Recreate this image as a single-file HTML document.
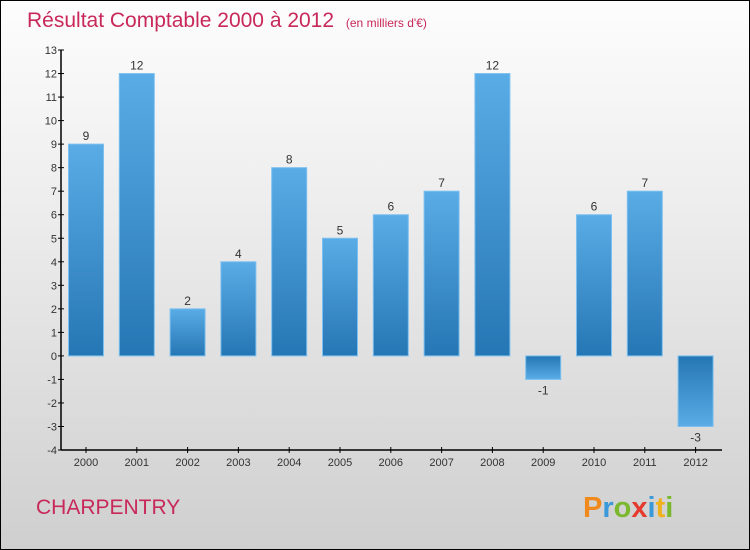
<!DOCTYPE html>
<html><head><meta charset="utf-8"><style>
body{margin:0}
#wrap{position:relative;width:748px;height:548px;border:1px solid #000;background:linear-gradient(#fdfdfd,#ececec 40%,#cfcfcf);font-family:"Liberation Sans",sans-serif;overflow:hidden}
</style></head><body>
<div id="wrap">
<svg width="748" height="548" viewBox="1 1 748 548" id="svg">
<defs><linearGradient id="g" x1="0" y1="0" x2="0" y2="1"><stop offset="0" stop-color="#5aace6"/><stop offset="1" stop-color="#2576b4"/></linearGradient>
<linearGradient id="gn" x1="0" y1="0" x2="0" y2="1"><stop offset="0" stop-color="#2576b4"/><stop offset="1" stop-color="#5aace6"/></linearGradient></defs>
<text x="27" y="27" font-size="21" fill="#c8285a">Résultat Comptable 2000 à 2012 <tspan font-size="12" dx="6">(en milliers d'€)</tspan></text>
<text x="36" y="514" font-size="21" fill="#c8285a">CHARPENTRY</text>
<text x="583" y="517" font-size="29" font-weight="bold"><tspan fill="#f08a1c">P</tspan><tspan fill="#3a9ad9">r</tspan><tspan fill="#7ab82e">o</tspan><tspan fill="#e53a2f">x</tspan><tspan fill="#3a9ad9">i</tspan><tspan fill="#f0b21c">t</tspan><tspan fill="#7ab82e">i</tspan></text>
<g id="plot"></g>
</svg></div>
<script>
const years=["2000","2001","2002","2003","2004","2005","2006","2007","2008","2009","2010","2011","2012"];
const values=[9,12,2,4,8,5,6,7,12,-1,6,7,-3];
const yTicks=[-4,-3,-2,-1,0,1,2,3,4,5,6,7,8,9,10,11,12,13];
const NS="http://www.w3.org/2000/svg";
const g=document.getElementById('plot');
const y=v=>355.9-v*23.53;
const x=i=>86+i*50.8;
function mk(t,a,p){const e=document.createElementNS(NS,t);for(const k in a)e.setAttribute(k,a[k]);(p||g).appendChild(e);return e;}
let ax=mk('line',{x1:61,y1:y(13),x2:61,y2:450,stroke:'#000','stroke-width':1.5});


let bx=mk('line',{x1:61,y1:450,x2:722,y2:450,stroke:'#000','stroke-width':1.5});


yTicks.forEach(v=>{
 mk('line',{x1:58,x2:64,y1:y(v),y2:y(v),stroke:'#000'});
 const t=mk('text',{x:57,y:y(v)+4,'text-anchor':'end','font-size':11,fill:'#333'});t.textContent=v;
 
 
});
values.forEach((v,i)=>{
 const top=v>=0?y(v):y(0),h=Math.abs(y(v)-y(0));
 const r=mk('rect',{x:x(i)-17.5,y:top,width:35,height:h,fill:v>=0?'url(#g)':'url(#gn)',stroke:'#7cc0ef','stroke-width':1});
 
 
 const l=mk('text',{x:x(i),y:v>=0?y(v)-4:y(v)+15,'text-anchor':'middle','font-size':12,fill:'#333'});l.textContent=v;
 
 
 mk('line',{x1:x(i),x2:x(i),y1:447,y2:453,stroke:'#000'});
 const t=mk('text',{x:x(i),y:466,'text-anchor':'middle','font-size':11,fill:'#333'});t.textContent=years[i];
 
 
});
</script>
</body></html>
